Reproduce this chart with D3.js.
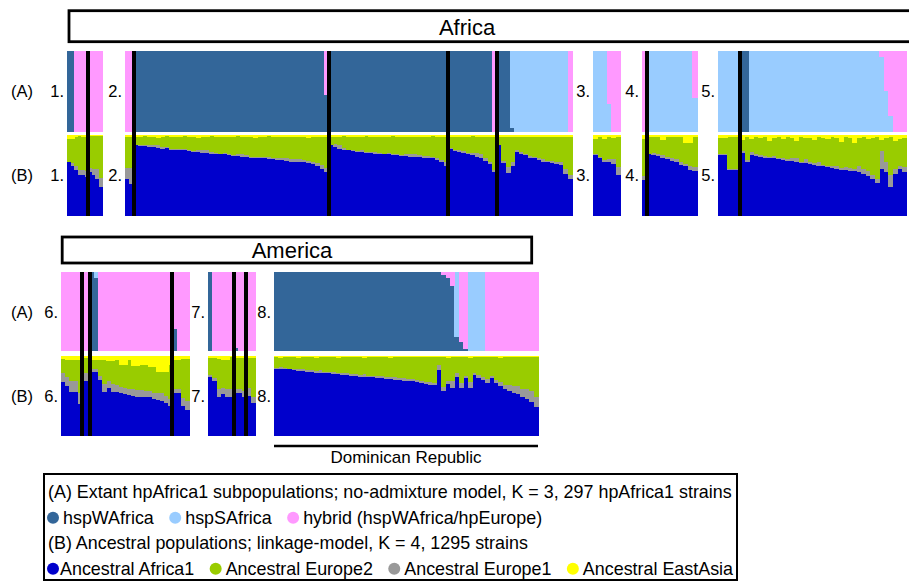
<!DOCTYPE html>
<html>
<head>
<meta charset="utf-8">
<script src="https://cdn.jsdelivr.net/npm/d3@7"></script>
<style>
  html, body { margin: 0; padding: 0; background: #fff; }
  svg { display: block; }
</style>
</head>
<body>
<svg id="chart" width="909" height="583"></svg>
<script>
// ---- data (percent per strain column) ----
const panelLabels = ["1.", "2.", "3.", "4.", "5.", "6.", "7.", "8."];
const regionTitles = ["Africa", "America"];

// strain index where a black country separator sits, per panel
const separators = [[6], [2, 46, 73, 84], [], [1], [5], [5, 7, 27], [6, 9], []];

// (A) no-admixture model, run-length: [strains, hspWAfrica, hspSAfrica, hybrid]
const runsA = [
  [[2, 100, 0, 0], [8, 0, 0, 100]],
  [[2, 0, 0, 100], [43, 100, 0, 0], [1, 46, 0, 54], [37, 100, 0, 0], [1, 0, 0, 100],
   [3, 100, 0, 0], [1, 5, 95, 0], [12, 0, 100, 0], [1, 0, 0, 100]],
  [[3, 0, 100, 0], [1, 0, 34, 66], [2, 0, 0, 100]],
  [[1, 0, 0, 100], [10, 0, 100, 0], [1, 0, 42, 58]],
  [[5, 0, 100, 0], [2, 100, 0, 0], [29, 0, 100, 0], [1, 0, 92, 8], [1, 0, 50, 50],
   [1, 0, 20, 80], [3, 0, 0, 100]],
  [[7, 0, 0, 100], [1, 100, 0, 0], [1, 92, 8, 0], [18, 0, 0, 100], [1, 28, 0, 72], [3, 0, 0, 100]],
  [[1, 100, 0, 0], [5, 0, 0, 100], [1, 4, 0, 96], [4, 0, 0, 100]],
  [[38, 100, 0, 0], [1, 96, 0, 4], [1, 92, 0, 8], [1, 82, 0, 18], [1, 18, 82, 0],
   [1, 12, 0, 88], [1, 3, 0, 97], [4, 0, 100, 0], [12, 0, 0, 100]]
];

// (B) linkage model: Ancestral Africa1
const afr1 = [
  [66, 62, 57, 50, 50, 48, 54, 50, 46, 35],
  [45, 39,
   87, 86, 86, 85, 85, 84, 83, 84, 82, 82, 81, 81, 80, 79, 79, 78, 78, 77, 77, 76, 76, 75,
   74, 74, 73, 73, 72, 72, 71, 71, 70, 70, 69, 69, 68, 67, 67, 66, 66, 65, 64, 61, 58, 54,
   87, 85, 83, 82, 81, 80, 79, 79, 78, 78, 77, 77, 76, 76, 75, 75, 74, 74, 73, 73, 73, 72,
   72, 71, 69, 66, 62,
   83, 80, 79, 78, 76, 75, 73, 71, 68, 64, 54,
   87, 65, 53, 62, 79, 77, 75, 72, 71, 69, 67, 66, 65, 64, 63, 52, 46],
  [75, 71, 67, 66, 64, 50],
  [44, 76, 75, 74, 72, 70, 68, 66, 63, 61, 57, 56],
  [75, 75, 57, 57, 57, 78, 67, 75, 74, 73, 72, 71, 71, 70, 69, 68, 68, 66, 65, 65, 64, 63,
   62, 61, 60, 59, 58, 57, 57, 56, 55, 54, 52, 49, 45, 40, 58, 54, 36, 52, 58, 54],
  [67, 62, 55, 55, 40, 68, 68, 80, 80, 70, 55, 60, 55, 55, 53, 52, 51, 50, 49, 49, 48, 48,
   46, 45, 44, 41, 37, 53, 53, 37, 32],
  [74, 68, 49, 52, 49, 49, 53, 53, 49, 50, 41],
  [84, 84, 83, 83, 82, 81, 81, 80, 80, 79, 79, 78, 78, 77, 77, 76, 76, 75, 75, 74, 74, 73,
   73, 72, 72, 71, 71, 70, 70, 69, 69, 68, 67, 66, 65, 64, 63, 82, 56, 65, 60, 74, 60, 72,
   60, 76, 72, 70, 66, 72, 66, 62, 58, 56, 54, 52, 49, 46, 42, 36]
];

// Ancestral Europe1
const eur1 = [
  [1, 3, 4, 7, 7, 8, 5, 8, 12, 12],
  [14, 20,
   0, 1, 1, 2, 3, 3, 2, 1, 1, 1, 2, 2, 1, 1, 2, 3, 3, 2, 1, 1, 2, 2, 1, 2, 3, 2, 1, 1, 2, 2,
   3, 2, 2, 3, 4, 3, 3, 4, 3, 3, 3, 4, 5, 5,
   1, 4, 4, 2, 1, 1, 1, 2, 1, 1, 2, 1, 1, 2, 2, 1, 1, 2, 3, 3, 2, 2, 2, 2, 3, 3, 4,
   1, 2, 2, 2, 2, 3, 5, 6, 4, 3, 3,
   1, 3, 7, 4, 2, 2, 2, 2, 2, 2, 3, 2, 3, 3, 4, 6, 5],
  [1, 2, 2, 4, 6, 10],
  [5, 1, 3, 3, 3, 3, 3, 4, 4, 3, 4, 4],
  [1, 1, 1, 1, 1, 2, 2, 4, 3, 2, 2, 2, 3, 2, 2, 2, 3, 6, 2, 5, 2, 2, 4, 2, 2, 3, 3, 2, 3, 3,
   3, 7, 6, 6, 5, 5, 22, 12, 15, 6, 3, 6],
  [12, 12, 14, 13, 14, 10, 10, 4, 4, 5, 10, 8, 10, 9, 8, 8, 8, 8, 8, 8, 8, 8, 8, 9, 9, 9, 9,
   6, 6, 10, 11],
  [2, 4, 10, 8, 10, 10, 6, 6, 7, 10, 8],
  [1, 2, 2, 1, 2, 2, 3, 2, 2, 2, 3, 2, 2, 3, 2, 2, 3, 2, 2, 2, 3, 2, 2, 3, 3, 2, 2, 3, 2, 3,
   2, 3, 3, 3, 2, 3, 3, 6, 5, 4, 8, 4, 6, 3, 7, 3, 4, 4, 5, 3, 4, 5, 6, 8, 8, 10, 10, 12, 14, 13]
];

// Ancestral EastAsia
const eAsia = [
  [5, 5, 2, 1, 2, 2, 1, 1, 1, 1],
  [3, 2,
   2, 3, 1, 2, 2, 4, 2, 1, 2, 2, 3, 1, 2, 2, 4, 2, 2, 1, 3, 2, 2, 2, 3, 1, 2, 2, 2, 4, 2, 2,
   1, 2, 3, 2, 2, 2, 3, 2, 2, 4, 2, 2, 2, 2,
   2, 2, 3, 1, 2, 3, 2, 2, 1, 2, 3, 2, 2, 2, 1, 3, 2, 2, 2, 3, 2, 2, 2, 1, 2, 2, 2,
   2, 3, 2, 2, 2, 1, 2, 2, 2, 3, 2,
   2, 2, 2, 3, 2, 2, 3, 2, 2, 2, 2, 3, 2, 2, 2, 2, 2],
  [5, 3, 5, 3, 4, 3],
  [5, 2, 2, 3, 6, 3, 2, 3, 3, 10, 10, 3],
  [4, 4, 3, 3, 2, 6, 3, 5, 3, 4, 3, 7, 4, 3, 5, 3, 4, 8, 3, 4, 4, 6, 3, 4, 5, 3, 4, 9, 3, 4,
   10, 4, 3, 5, 4, 3, 6, 4, 3, 8, 5, 4],
  [4, 5, 5, 5, 5, 3, 3, 5, 5, 5, 5, 7, 7, 5, 11, 11, 5, 13, 13, 11, 11, 14, 14, 20, 20, 20,
   11, 5, 5, 4, 4],
  [3, 3, 4, 5, 5, 2, 3, 3, 3, 3, 3],
  [2, 3, 2, 2, 2, 3, 2, 2, 2, 3, 2, 2, 2, 2, 3, 2, 2, 2, 2, 2, 3, 2, 2, 2, 2, 2, 3, 2, 2, 2,
   2, 2, 2, 2, 2, 2, 2, 2, 2, 3, 2, 2, 2, 2, 3, 2, 2, 2, 2, 2, 2, 3, 2, 2, 2, 2, 2, 2, 2, 2]
];

const keysA = ["hspWAfrica", "hspSAfrica", "hybrid"];
const keysB = ["Africa1", "Europe1", "Europe2", "EastAsia"];
const legendA = ["hspWAfrica", "hspSAfrica", "hybrid (hspWAfrica/hpEurope)"];
const legendB = ["Ancestral Africa1", "Ancestral Europe2", "Ancestral Europe1", "Ancestral EastAsia"];
const legendTitleA = "(A) Extant hpAfrica1 subpopulations; no-admixture model, K = 3, 297 hpAfrica1 strains";
const legendTitleB = "(B) Ancestral populations; linkage-model, K = 4, 1295 strains";

// ---- layout ----
const FONT = "'Liberation Sans', Arial, Helvetica, sans-serif";
const colorA = d3.scaleOrdinal().domain(keysA).range(["#336699", "#99ccff", "#ff99ff"]);
const colorB = d3.scaleOrdinal().domain(keysB).range(["#0000cc", "#999999", "#99cc00", "#ffff00"]);
const legendBColors = ["#0000cc", "#99cc00", "#999999", "#ffff00"];

const panelX = [[67, 102], [125, 572], [593, 620], [642, 697], [718, 906],
                [61, 189], [208, 255], [274, 538]];
const rowsAfrica = { aTop: 51, aBot: 131.7, bTop: 135, bBot: 215.7 };
const rowsAmerica = { aTop: 272, aBot: 351, bTop: 355.7, bBot: 435.7 };

const svg = d3.select("#chart");

// Region title boxes
function titleBox(x, y, w, h, label, cx, baseline) {
  svg.append("rect")
    .attr("x", x).attr("y", y).attr("width", w).attr("height", h)
    .attr("fill", "none").attr("stroke", "#000").attr("stroke-width", 2.8);
  svg.append("text")
    .attr("x", cx).attr("y", baseline)
    .attr("text-anchor", "middle")
    .style("font-family", FONT).style("font-size", "22px")
    .text(label);
}
titleBox(69, 10.7, 860, 31, regionTitles[0], 467, 35);
titleBox(62.2, 237, 469.5, 26, regionTitles[1], 292, 258);

// Row labels
[rowsAfrica, rowsAmerica].forEach((rows) => {
  [["(A)", (rows.aTop + rows.aBot) / 2], ["(B)", (rows.bTop + rows.bBot) / 2]].forEach(([t, cy]) => {
    svg.append("text")
      .attr("x", 11).attr("y", cy + 6)
      .style("font-family", FONT).style("font-size", "16.5px")
      .text(t);
  });
});

// Panels
panelLabels.forEach((label, i) => {
  const [x0, x1] = panelX[i];
  const rows = i < 5 ? rowsAfrica : rowsAmerica;
  const n = afr1[i].length;

  const x = d3.scaleLinear().domain([0, n]).range([x0, x1]);
  const yA = d3.scaleLinear().domain([0, 100]).range([rows.aBot, rows.aTop]);
  const yB = d3.scaleLinear().domain([0, 100]).range([rows.bBot, rows.bTop]);

  const strainsA = runsA[i].flatMap(([count, w, s, h]) =>
    d3.range(count).map(() => ({ hspWAfrica: w, hspSAfrica: s, hybrid: h })));
  strainsA.forEach((d, j) => (d.idx = j));

  const strainsB = afr1[i].map((v, j) => ({
    idx: j,
    Africa1: v,
    Europe1: eur1[i][j],
    EastAsia: eAsia[i][j],
    Europe2: Math.max(0, 100 - v - eur1[i][j] - eAsia[i][j])
  }));

  const g = svg.append("g").attr("shape-rendering", "crispEdges");

  g.append("g").selectAll("g")
    .data(d3.stack().keys(keysA)(strainsA))
    .join("g")
    .attr("fill", (s) => colorA(s.key))
    .selectAll("rect")
    .data((s) => s.filter((d) => d[1] > d[0]))
    .join("rect")
    .attr("x", (d) => x(d.data.idx))
    .attr("width", (x1 - x0) / n + 0.6)
    .attr("y", (d) => yA(d[1]))
    .attr("height", (d) => yA(d[0]) - yA(d[1]));

  g.append("g").selectAll("g")
    .data(d3.stack().keys(keysB)(strainsB))
    .join("g")
    .attr("fill", (s) => colorB(s.key))
    .selectAll("rect")
    .data((s) => s.filter((d) => d[1] > d[0]))
    .join("rect")
    .attr("x", (d) => x(d.data.idx))
    .attr("width", (x1 - x0) / n + 0.6)
    .attr("y", (d) => yB(d[1]))
    .attr("height", (d) => yB(d[0]) - yB(d[1]));

  // country separators
  g.selectAll(".sep")
    .data(separators[i])
    .join("rect")
    .attr("class", "sep")
    .attr("x", (d) => x(d) - 2)
    .attr("width", 4)
    .attr("y", rows.aTop)
    .attr("height", rows.bBot - rows.aTop)
    .attr("fill", "#000");

  // panel numbers
  [(rows.aTop + rows.aBot) / 2, (rows.bTop + rows.bBot) / 2].forEach((cy) => {
    svg.append("text")
      .attr("x", x0 - 3).attr("y", cy + 6)
      .attr("text-anchor", "end")
      .style("font-family", FONT).style("font-size", "16.5px")
      .text(label);
  });

  if (i === 7) {
    svg.append("line")
      .attr("x1", x(0)).attr("x2", x(n))
      .attr("y1", 446).attr("y2", 446)
      .attr("stroke", "#000").attr("stroke-width", 2.6);
    svg.append("text")
      .attr("x", (x(0) + x(n)) / 2).attr("y", 463)
      .attr("text-anchor", "middle")
      .style("font-family", FONT).style("font-size", "17px")
      .text("Dominican Republic");
  }
});

// Legend
const legX = 44, legY = 474, legW = 693, legH = 106;
svg.append("rect")
  .attr("x", legX).attr("y", legY).attr("width", legW).attr("height", legH)
  .attr("fill", "#fff").attr("stroke", "#000").attr("stroke-width", 2);

const legFont = 17.9;
function legText(x, y, t) {
  return svg.append("text")
    .attr("x", x).attr("y", y)
    .style("font-family", FONT).style("font-size", legFont + "px")
    .text(t);
}
legText(48, 498, legendTitleA);
legText(48, 549, legendTitleB);

function legendRow(labels, colors, baseline, firstGap, gap) {
  let cx = 47;
  labels.forEach((t, k) => {
    svg.append("circle")
      .attr("cx", cx + 6).attr("cy", baseline - 6.3).attr("r", 6)
      .attr("fill", colors[k]);
    const txt = legText(cx + 12 + (k === 0 ? firstGap : 4), baseline, t);
    cx = cx + 12 + (k === 0 ? firstGap : 4) + txt.node().getComputedTextLength() + gap;
  });
}
// measure row B so it spans to the right end of the title line
const probe = legText(0, -50, legendB.join(""));
const textSum = probe.node().getComputedTextLength();
probe.remove();
const gapB = (733 - 47 - 4 * 12 - 1 - 3 * 4 - textSum) / 3;
legendRow(legendA, ["#336699", "#99ccff", "#ff99ff"], 524, 4, gapB);
legendRow(legendB, legendBColors, 575, 1, gapB);
</script>
</body>
</html>
